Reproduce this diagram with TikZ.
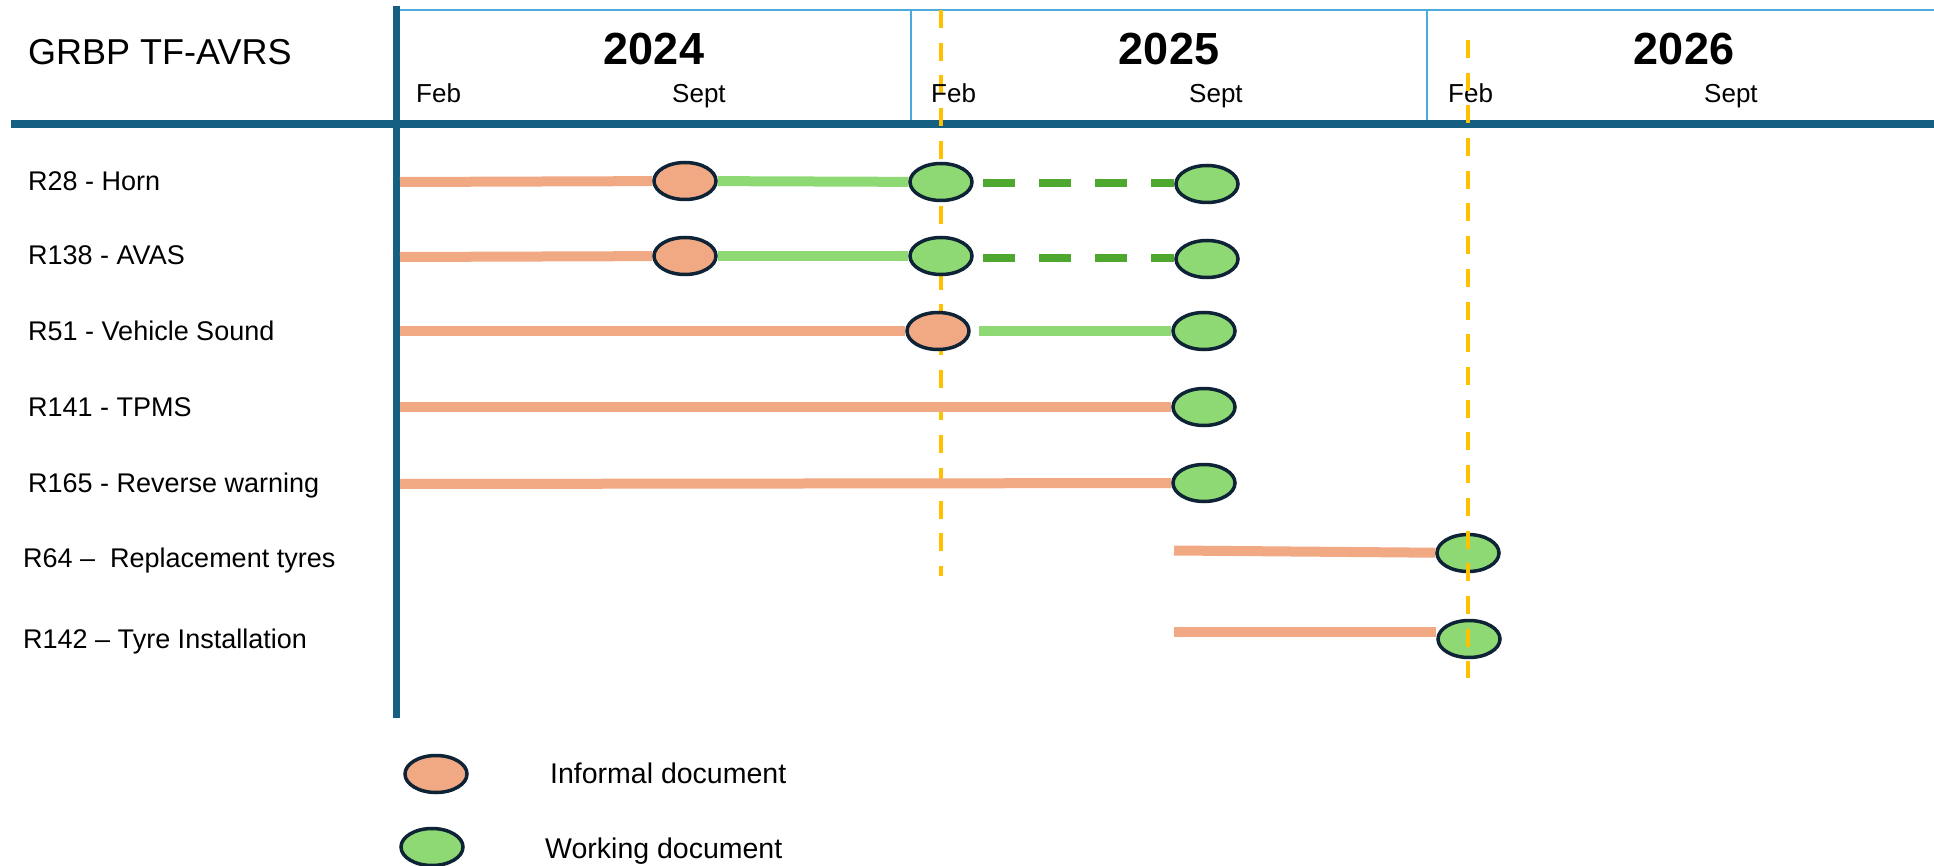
\documentclass[tikz,border=0pt]{standalone}
\usepackage{fontspec}
\setmainfont{Liberation Sans}
\usetikzlibrary{shapes.geometric,backgrounds,calc}
\definecolor{barc}{HTML}{156082}
\definecolor{sepc}{HTML}{4EA9DE}
\definecolor{gold}{HTML}{FFC000}
\definecolor{orangec}{HTML}{F1A983}
\definecolor{greenc}{HTML}{8ED973}
\definecolor{dgreenc}{HTML}{4EA72E}
\definecolor{edgec}{HTML}{0E2336}
\tikzset{
 doc/.style={ellipse, draw=edgec, line width=3.5pt, minimum width=62pt, minimum height=37pt, inner sep=0pt},
 informal/.style={doc, fill=orangec},
 working/.style={doc, fill=greenc},
 prog/.style={line width=10pt, draw=orangec},
 wip/.style={line width=10pt, draw=greenc},
 planned/.style={line width=8pt, draw=dgreenc, dash pattern=on 32pt off 24pt, dash phase=48pt},
 milestone/.style={line width=4pt, draw=gold, dash pattern=on 18pt off 14.7pt},
 rowlabel/.style={anchor=base west, inner sep=0pt, font=\fontsize{27}{32}\selectfont},
 monthlabel/.style={anchor=base west, inner sep=0pt, font=\fontsize{26}{31}\selectfont},
 yearlabel/.style={anchor=base, inner sep=0pt, font=\fontsize{45}{54}\selectfont\bfseries},
 legendlabel/.style={anchor=base west, inner sep=0pt, font=\fontsize{28.5}{34}\selectfont},
}
\begin{document}
\begin{tikzpicture}[x=1pt,y=-1pt]
\useasboundingbox (0,0) rectangle (1934,866);

% header texts
\node[anchor=base west, inner sep=0pt, font=\fontsize{36}{43}\selectfont] (title) at (28,65) {GRBP TF-AVRS};
\node[yearlabel] (y24) at (654,65) {2024};
\node[yearlabel] (y25) at (1169,65) {2025};
\node[yearlabel] (y26) at (1684,65) {2026};
\node[monthlabel] (m1) at (416,103) {Feb};
\node[monthlabel] (m2) at (672,103) {Sept};
\node[monthlabel] (m3) at (931,103) {Feb};
\node[monthlabel] (m4) at (1189,103) {Sept};
\node[monthlabel] (m5) at (1448,103) {Feb};
\node[monthlabel] (m6) at (1704,103) {Sept};

% row labels
\node[rowlabel] (l1) at (28,191) {R28 - Horn};
\node[rowlabel] (l2) at (28,265) {R138 - AVAS};
\node[rowlabel] (l3) at (28,341) {R51 - Vehicle Sound};
\node[rowlabel] (l4) at (28,416) {R141 - TPMS};
\node[rowlabel] (l5) at (28,492) {R165 - Reverse warning};
\node[rowlabel] (l6) at (23,567) {R64 --\ \ Replacement tyres};
\node[rowlabel] (l7) at (23,648) {R142 -- Tyre Installation};

% milestone nodes
\node[informal] (oA) at (685,181) {};
\node[working]  (gA) at (941,182) {};
\node[working]  (eA) at (1207,184) {};
\node[informal] (oB) at (685,256) {};
\node[working]  (gB) at (941,256) {};
\node[working]  (eB) at (1207,259) {};
\node[informal] (oC) at (938,331) {};
\node[working]  (eC) at (1204,331) {};
\node[working]  (eD) at (1204,407) {};
\node[working]  (eE) at (1204,483) {};
\node[working]  (eF) at (1468,553) {};
\node[working]  (eG) at (1469,639) {};

% legend
\node[informal] (lo) at (436,774) {};
\node[working]  (lg) at (432,847) {};
\node[legendlabel] (lot) at (550,783) {Informal document};
\node[legendlabel] (lgt) at (545,858) {Working document};

% start points
\coordinate (sA) at (400,182);
\coordinate (sB) at (400,257);
\coordinate (sC) at (400,331);
\coordinate (sD) at (400,407);
\coordinate (sE) at (400,484);
\coordinate (sF) at (1174,550.5);
\coordinate (sG) at (1174,632);
\coordinate (pA) at (975,183);
\coordinate (pB) at (975,258);

% frame coordinates
\coordinate (vt) at (396,6);
\coordinate (vb) at (396,718);
\coordinate (hl) at (11,124);
\coordinate (hr) at (1934,124);
\coordinate (tl) at (396,10);
\coordinate (tr) at (1934,10);
\coordinate (s1t) at (911,10);
\coordinate (s1b) at (911,120);
\coordinate (s2t) at (1427,10);
\coordinate (s2b) at (1427,120);
\coordinate (d1t) at (941,10);
\coordinate (d1b) at (941,576);
\coordinate (d2t) at (1468,40);
\coordinate (d2b) at (1468,678);

\begin{pgfonlayer}{background}
 \draw[sepc, line width=2.5pt] (tl) -- (tr);
 \draw[sepc, line width=2pt] (s1t) -- (s1b);
 \draw[sepc, line width=2pt] (s2t) -- (s2b);
 \draw[barc, line width=8pt] (hl) -- (hr);
 \draw[barc, line width=7pt] (vt) -- (vb);
 \draw[milestone] (d1t) -- (d1b);
 % timelines
 \draw[prog] (sA) -- (oA);
 \draw[wip] (oA) -- (gA);
 \draw[planned] (pA) -- (pA -| eA.west);
 \draw[prog] (sB) -- (oB);
 \draw[wip] (oB) -- (gB);
 \draw[planned] (pB) -- (pB -| eB.west);
 \draw[prog] (sC) -- (oC);
 \draw[wip, shorten <=8pt] (oC) -- (eC);
 \draw[prog] (sD) -- (eD);
 \draw[prog] (sE) -- (eE);
 \draw[prog] (sF) -- (eF);
 \draw[prog] (sG) -- (sG -| eG.west);
\end{pgfonlayer}

\draw[milestone] (d2t) -- (d2b);
\end{tikzpicture}
\end{document}
